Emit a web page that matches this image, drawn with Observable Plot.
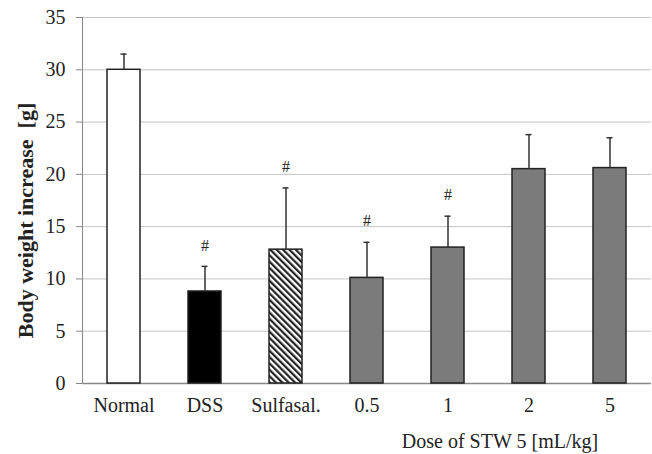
<!DOCTYPE html>
<html><head><meta charset="utf-8">
<script src="https://cdn.jsdelivr.net/npm/d3@7"></script>
<script src="https://cdn.jsdelivr.net/npm/@observablehq/plot@0.6"></script>
<style>body{margin:0;background:#fff} svg{display:block}</style>
</head><body><div id="chart"></div>
<script>
const groups = ["Normal", "DSS", "Sulfasal.", "0.5", "1", "2", "5"];
const means = [30.0, 8.8, 12.8, 10.1, 13.0, 20.5, 20.6];
const sds = [1.5, 2.4, 5.9, 3.4, 3.0, 3.3, 2.9];
const significant = [false, true, true, true, true, false, false];
const yTicks = [0, 5, 10, 15, 20, 25, 30, 35];
const yLabel = "Body weight increase  [g]";
const doseLabel = "Dose of STW 5 [mL/kg]";
const sigMark = "#";

const data = groups.map((g, i) => ({group: g, mean: means[i], sd: sds[i], top: means[i] + sds[i], sig: significant[i]}));
const fillOf = {"Normal": "#ffffff", "DSS": "#000000", "Sulfasal.": "url(#hatch)"};
const fillFn = d => fillOf[d.group] ?? "#7b7b7b";

const chart = Plot.plot({
  width: 652, height: 454,
  marginTop: 17, marginBottom: 71, marginLeft: 82, marginRight: 1,
  style: {fontFamily: "'Liberation Serif', 'Times New Roman', serif", color: "#222", background: "#fff"},
  x: {domain: groups, paddingInner: 0.594, paddingOuter: 0.297, label: null},
  y: {domain: [0, 35], label: null},
  color: {type: "identity"},
  marks: [
    Plot.gridY(yTicks, {stroke: "#c4c4c4", strokeOpacity: 1}),
    Plot.frame({anchor: "left", stroke: "#888"}),
    Plot.axisY(yTicks, {tickSize: 6, tickPadding: 11, fontSize: 20, stroke: "#888", label: null}),
    Plot.axisX({tickSize: 0, tickPadding: 14, fontSize: 20, label: null}),
    Plot.ruleY([0], {stroke: "#888", strokeWidth: 1.5}),
    Plot.barY(data, {x: "group", y: "mean", fill: fillFn, stroke: "#222", strokeWidth: 1.5}),
    Plot.ruleX(data, {x: "group", y1: "mean", y2: "top", stroke: "#333", strokeWidth: 1.5}),
    Plot.tickY(data, {x: "group", y: "top", insetLeft: 13.5, insetRight: 13.5, stroke: "#333", strokeWidth: 1.5}),
    Plot.text(data.filter(d => d.sig), {x: "group", y: "top", text: () => sigMark, dy: -21, fontSize: 16}),
    Plot.text([yLabel], {frameAnchor: "left", textAnchor: "middle", lineAnchor: "middle", rotate: -90, dx: -57, dy: 20, fontWeight: "bold", fontSize: 22}),
    Plot.text([doseLabel], {frameAnchor: "bottom", textAnchor: "middle", lineAnchor: "middle", dx: 133, dy: 58, fontSize: 20})
  ]
});

const svg = d3.select(chart);
const pat = svg.insert("defs", ":first-child").append("pattern")
  .attr("id", "hatch").attr("patternUnits", "userSpaceOnUse")
  .attr("width", 4.5).attr("height", 4.5)
  .attr("patternTransform", "rotate(-45)");
pat.append("rect").attr("width", 4.5).attr("height", 4.5).attr("fill", "#fff");
pat.append("rect").attr("width", 2.2).attr("height", 4.5).attr("fill", "#222");

document.getElementById("chart").append(chart);
</script>
</body></html>
